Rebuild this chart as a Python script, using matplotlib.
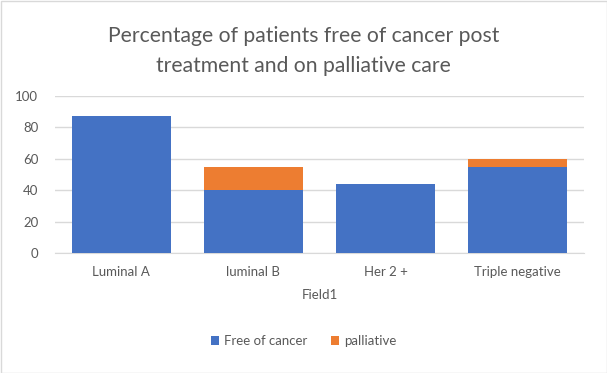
import matplotlib
matplotlib.use("Agg")
import matplotlib.pyplot as plt
from matplotlib.patches import Rectangle

categories = ["Luminal A", "luminal B", "Her 2 +", "Triple negative"]
free_of_cancer = [87, 40, 44, 55]
palliative = [0, 15, 0, 5]
yticks = [0, 20, 40, 60, 80, 100]

blue = "#4472C4"
orange = "#ED7D31"
grey = "#595959"

plt.rcParams['font.family'] = ['Lato', 'DejaVu Sans']

fig = plt.figure(figsize=(6.07, 3.73), dpi=100)
ax = fig.add_axes([55/607, 1-253/373, (584-55)/607, (253-96)/373])

x = range(len(categories))
ax.bar(x, free_of_cancer, width=0.75, color=blue, label="Free of cancer", zorder=3)
ax.bar(x, palliative, width=0.75, bottom=free_of_cancer, color=orange, label="palliative", zorder=3)

ax.set_xlim(-0.5, len(categories) - 0.5)
ax.set_ylim(0, 100)
ax.set_yticks(yticks)
ax.set_xticks(list(x))
ax.set_xticklabels(categories)
ax.yaxis.grid(True, color="#d9d9d9", linewidth=1, zorder=0)
for s in ["top", "right", "left"]:
    ax.spines[s].set_visible(False)
ax.spines["bottom"].set_color("#d9d9d9")
ax.tick_params(axis="both", length=0, colors=grey, labelsize=9.5)
ax.tick_params(axis="x", pad=9)
ax.tick_params(axis="y", pad=12)

ax.set_xlabel("Field1", color=grey, fontsize=9.5, labelpad=8)

# title, two lines, centred over the chart
fig.text(0.5, 1-51/373, "Percentage of patients free of cancer post\ntreatment and on palliative care",
         ha="center", va="center", color=grey, fontsize=15.2, linespacing=1.6)

handles, labels = ax.get_legend_handles_labels()
fig.legend(handles, labels, loc="center", bbox_to_anchor=(0.5, 1-341/373), ncol=2,
           frameon=False, fontsize=9.5, labelcolor=grey, handlelength=0.6, handleheight=0.6,
           handletextpad=0.4, columnspacing=1.8)

fig.patches.append(Rectangle((0.5/607, 0.5/373), 1-1/607, 1-1/373, transform=fig.transFigure,
                             fill=False, edgecolor="#d9d9d9", linewidth=1))

fig.savefig("out.png", dpi=100)
